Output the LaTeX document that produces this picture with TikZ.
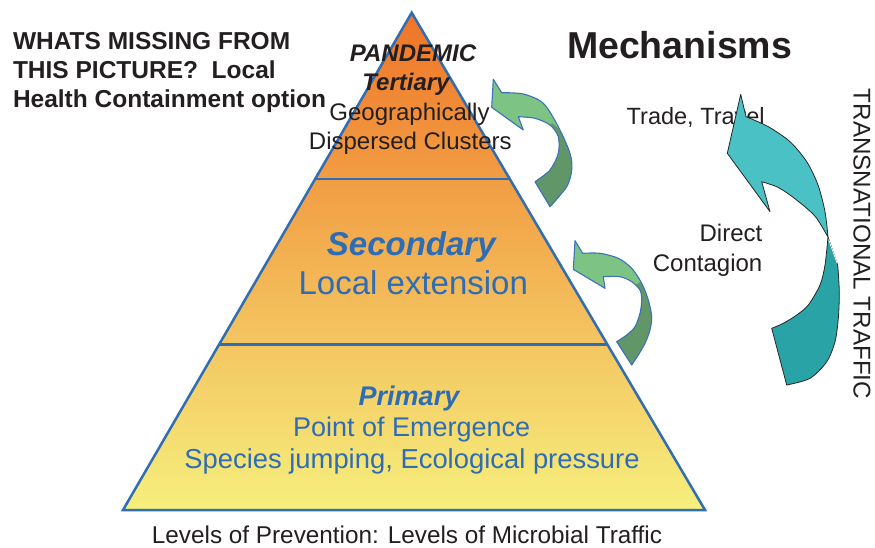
\documentclass[tikz,border=0pt]{standalone}
\usepackage{fontspec}
\setmainfont{Liberation Sans}
\usetikzlibrary{calc}
\definecolor{pyrtop}{HTML}{EF7427}
\definecolor{pyrmid}{HTML}{F4AA48}
\definecolor{pyrbot}{HTML}{F6EF7E}
\definecolor{edgeblue}{HTML}{2F6DB5}
\definecolor{txtblue}{HTML}{2E6DB4}
\definecolor{txtdark}{HTML}{231F20}
\definecolor{glight}{HTML}{7CC384}
\definecolor{gdark}{HTML}{619669}
\definecolor{goutline}{HTML}{3D72B8}
\definecolor{tlight}{HTML}{4AC1C5}
\definecolor{tdark}{HTML}{2AA3A6}
\tikzset{
  lbl/.style={inner sep=0pt, outer sep=0pt},
  pyredge/.style={draw=edgeblue, line width=2.5pt},
  garrowline/.style={draw=goutline, line width=1.1pt, line join=round},
  tarrowline/.style={draw=black!85, line width=0.8pt, line join=round},
}
\begin{document}
\begin{tikzpicture}[x=1pt,y=-1pt]
\useasboundingbox (0,0) rectangle (875,547);
% pyramid
\coordinate (apex) at (411.7,12.7);
\coordinate (bl) at (123,510);
\coordinate (br) at (705,510);
\shade[top color=pyrtop, middle color=pyrmid, bottom color=pyrbot] (apex) -- (bl) -- (br) -- cycle;
\draw[pyredge, line join=miter] (apex) -- (bl) -- (br) -- cycle;
\draw[pyredge] ($(apex)!0.3344!(bl)$) -- ($(apex)!0.3344!(br)$);
\draw[pyredge] ($(apex)!0.6668!(bl)$) -- ($(apex)!0.6668!(br)$);

% tertiary texts
\node[lbl, anchor=base, text=txtdark, font=\fontsize{24}{24}\selectfont\bfseries\itshape] (pand) at (413,61.7) {PANDEMIC};
\node[lbl, anchor=base, text=txtdark, font=\fontsize{24}{24}\selectfont\bfseries\itshape] (tert) at (406,90.7) {Tertiary};
\node[lbl, anchor=base, text=txtdark, font=\fontsize{24}{24}\selectfont] (geo) at (409.5,120.7) {Geographically};
\node[lbl, anchor=base, text=txtdark, font=\fontsize{24}{24}\selectfont] (disp) at (410.3,149.3) {Dispersed Clusters};

% secondary texts
\node[lbl, anchor=base, text=txtblue, font=\fontsize{33}{33}\selectfont\bfseries\itshape] (sec) at (411.3,255) {Secondary};
\node[lbl, anchor=base, text=txtblue, font=\fontsize{33}{33}\selectfont] (locext) at (413.3,294) {Local extension};

% primary texts
\node[lbl, anchor=base, text=txtblue, font=\fontsize{27}{27}\selectfont\bfseries\itshape] (prim) at (409,405) {Primary};
\node[lbl, anchor=base, text=txtblue, font=\fontsize{27}{27}\selectfont] (poe) at (411.7,436.7) {Point of Emergence};
\node[lbl, anchor=base, text=txtblue, font=\fontsize{27.4}{27.4}\selectfont] (spec) at (412,468.3) {Species jumping, Ecological pressure};

% caption
\node[lbl, anchor=base, text=txtdark, font=\fontsize{24.3}{24.3}\selectfont] (cap) at (407,543) {Levels of Prevention: Levels of Microbial Traffic};

% left question
\node[lbl, anchor=base west, text=txtdark, font=\fontsize{24.5}{24.5}\selectfont\bfseries] (q1) at (13,49.3) {WHATS MISSING FROM};
\node[lbl, anchor=base west, text=txtdark, font=\fontsize{24.5}{24.5}\selectfont\bfseries] (q2) at (13,78.3) {THIS PICTURE?\ \ Local};
\node[lbl, anchor=base west, text=txtdark, font=\fontsize{24.5}{24.5}\selectfont\bfseries] (q3) at (13,107.3) {Health Containment option};

% right side texts
\node[lbl, anchor=base west, text=txtdark, font=\fontsize{37.5}{37.5}\selectfont\bfseries] (mech) at (567,58) {Mechanisms};
\node[lbl, anchor=base west, text=txtdark, font=\fontsize{23.5}{23.5}\selectfont] (trade) at (626.7,124) {Trade, Travel};
\node[lbl, anchor=base east, text=txtdark, font=\fontsize{24}{24}\selectfont] (direct) at (762.3,241.7) {Direct};
\node[lbl, anchor=base east, text=txtdark, font=\fontsize{24}{24}\selectfont] (contag) at (762.3,271.7) {Contagion};
\node[lbl, anchor=base, rotate=-90, text=txtdark, font=\fontsize{24.2}{24.2}\selectfont] (trans) at (853.5,244) {TRANSNATIONAL TRAFFIC};

% upper green arrow
\def\arrowA{(491.7,107.3) -- (493.3,79.3) -- (501.7,92.7) -- plot[smooth] coordinates {(501.7,92.7) (523.3,94) (543.3,103.3) (558.3,126.7) (570,153.3) (571.7,170) (566.7,186.7) (550,206.7)} -- (535,181.7) -- plot[smooth] coordinates {(535,181.7) (550,170) (558.3,153.3) (558.3,136.7) (550,125) (535,118.3) (518.3,116.7)} -- (523.3,130) -- cycle}
\fill[glight] \arrowA;
\begin{scope}
\clip \arrowA;
\fill[gdark] (552,123) -- (590,156) -- (590,220) -- (525,220) -- (525,145) -- (545,131) -- cycle;
\end{scope}
\draw[garrowline] \arrowA;

% lower green arrow
\def\arrowB{(573.3,269.3) -- (575,240.7) -- (582.7,253.3) -- plot[smooth] coordinates {(582.7,253.3) (600,253.3) (618.3,258.3) (631.7,268.3) (641.7,283.3) (648.3,300) (651.7,316.7) (650,330) (645,343.3) (638.3,355) (631.7,365)} -- (616.7,341.7) -- plot[smooth] coordinates {(616.7,341.7) (626.7,335) (635,326.7) (640,313.3) (641.7,300) (640,290) (631.7,281.7) (620,276.7) (603.3,276.7)} -- (605,288.3) -- cycle}
\fill[glight] \arrowB;
\begin{scope}
\clip \arrowB;
\fill[gdark] (640,282) -- (675,312) -- (675,380) -- (600,380) -- (600,300) -- (628,290) -- cycle;
\end{scope}
\draw[garrowline] \arrowB;

% teal transnational arrow
\filldraw[fill=tlight, tarrowline] (727.3,153.3) -- (740.7,94.3) -- (746,116.7) -- plot[smooth] coordinates {(746,116.7) (768.3,126.7) (790,141.7) (806.7,161.7) (818,185) (825,211.7) (828,237)} -- plot[smooth] coordinates {(828,237) (816.7,218.3) (806.7,208.3) (790,195) (776.7,186.7) (761.7,181.7)} -- (770,211.7) -- cycle;
\filldraw[fill=tdark, tarrowline] (828,237) -- plot[smooth] coordinates {(828,237) (825,265) (820,285) (808.3,305) (796.7,315) (783.3,323.3) (771.7,328.3)} -- (786.7,385) -- plot[smooth] coordinates {(786.7,385) (810,378.3) (826.7,361.7) (835,341.7) (838.3,318.3) (839.3,291.7) (837.7,265)} -- cycle;
\draw[white, line width=0.8pt] (828.6,239.5) -- (837.2,263.5);
\end{tikzpicture}
\end{document}
